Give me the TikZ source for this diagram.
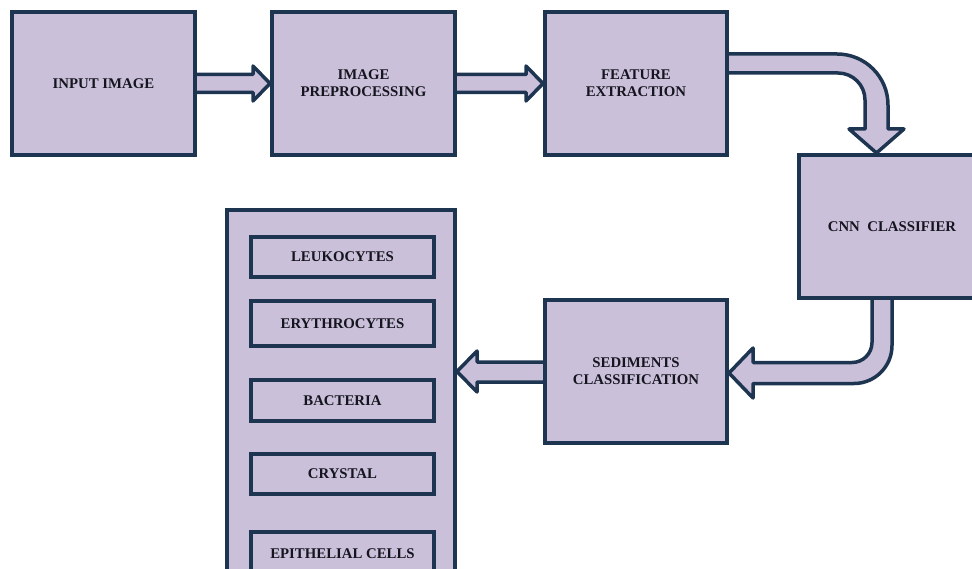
\documentclass[tikz,border=0pt]{standalone}
\usepackage{fontspec}
\setmainfont{Liberation Serif}
\usetikzlibrary{calc}
\definecolor{lav}{HTML}{CBC0DA}
\definecolor{edge}{HTML}{1E3551}
\definecolor{ink}{HTML}{15151F}
\pgfdeclarelayer{bg}
\pgfsetlayers{bg,main}
\tikzset{
  box/.style={draw=edge, fill=lav, line width=4pt, rectangle, align=center,
    text=ink, font=\fontsize{14.8}{17}\selectfont\bfseries, inner sep=0pt},
  barrow/.style={draw=edge, fill=lav, line width=3.5pt, line join=round}
}
\begin{document}
\begin{tikzpicture}[x=1pt,y=-1pt]
\useasboundingbox (0,0) rectangle (972,569);
\clip (0,0) rectangle (972,569);

% main boxes
\node[box, minimum width=183, minimum height=143] (in) at (103.5,83.5) {INPUT IMAGE};
\node[box, minimum width=183, minimum height=143] (ip) at (363.5,83.5) {IMAGE\\PREPROCESSING};
\node[box, minimum width=182, minimum height=143] (fe) at (636,83.5) {FEATURE\\EXTRACTION};
\node[box, minimum width=186, minimum height=143] (cnn) at (892,226.5) {CNN~~CLASSIFIER};
\node[box, minimum width=182, minimum height=143] (sc) at (636,371.5) {SEDIMENTS\\CLASSIFICATION};

% output container
\node[box, minimum width=228, minimum height=390] (big) at (341,405) {};
\node[box, minimum width=183, minimum height=40] (leu) at (342.5,257) {LEUKOCYTES};
\node[box, minimum width=183, minimum height=45] (ery) at (342.5,323.5) {ERYTHROCYTES};
\node[box, minimum width=183, minimum height=41] (bac) at (342.5,400.5) {BACTERIA};
\node[box, minimum width=183, minimum height=40] (cry) at (342.5,474) {CRYSTAL};
\node[box, minimum width=183, minimum height=44] (epi) at (342.5,554) {EPITHELIAL CELLS};

\begin{pgfonlayer}{bg}
% straight arrows
\draw[barrow] let \p1=(in.east), \p2=(ip.west) in
  (\x1-4pt,\y1+9pt) -- (\x2-17pt,\y1+9pt) -- (\x2-17pt,\y1+17.5pt) -- (\x2,\y1)
  -- (\x2-17pt,\y1-17.5pt) -- (\x2-17pt,\y1-9pt) -- (\x1-4pt,\y1-9pt) -- cycle;
\draw[barrow] let \p1=(ip.east), \p2=(fe.west) in
  (\x1-4pt,\y1+9pt) -- (\x2-17pt,\y1+9pt) -- (\x2-17pt,\y1+17.5pt) -- (\x2,\y1)
  -- (\x2-17pt,\y1-17.5pt) -- (\x2-17pt,\y1-9pt) -- (\x1-4pt,\y1-9pt) -- cycle;
% bent arrow feature extraction -> CNN
\draw[barrow] let \p1=(fe.east), \p2=(cnn.north) in
  (\x1-4pt,\y1+29.5pt) -- (\x2-55pt,\y1+29.5pt) arc[start angle=90,end angle=0,radius=51pt]
  -- (\x2-4pt,\y2+24pt) -- (\x2+12pt,\y2+24pt) -- (\x2-15.5pt,\y2) -- (\x2-43pt,\y2+24pt)
  -- (\x2-27pt,\y2+24pt) -- (\x2-27pt,\y1+10.5pt-27pt) arc[start angle=0,end angle=90,radius=27pt]
  -- (\x1-4pt,\y1+10.5pt) -- cycle;
% bent arrow CNN -> sediments classification
\draw[barrow] let \p1=(cnn.south), \p2=(sc.east) in
  (\x1-20pt,\y1+4pt) -- (\x1-20pt,\y2+29pt) arc[start angle=0,end angle=-90,radius=20pt]
  -- (\x2+24pt,\y2+9pt) -- (\x2+24pt,\y2+23.5pt) -- (\x2,\y2-1.5pt) -- (\x2+24pt,\y2-26.5pt)
  -- (\x2+24pt,\y2-12pt) -- (\x1-38pt,\y2-12pt) arc[start angle=-90,end angle=0,radius=38pt]
  -- (\x1,\y1+4pt) -- cycle;
% arrow sediments classification -> classes
\draw[barrow] let \p1=(sc.west), \p2=(big.east) in
  (\x1+4pt,\y1+9.5pt) -- (\x2+20pt,\y1+9.5pt) -- (\x2+20pt,\y1+20.5pt) -- (\x2,\y1)
  -- (\x2+20pt,\y1-20.5pt) -- (\x2+20pt,\y1-10.5pt) -- (\x1+4pt,\y1-10.5pt) -- cycle;
\end{pgfonlayer}
\end{tikzpicture}
\end{document}
